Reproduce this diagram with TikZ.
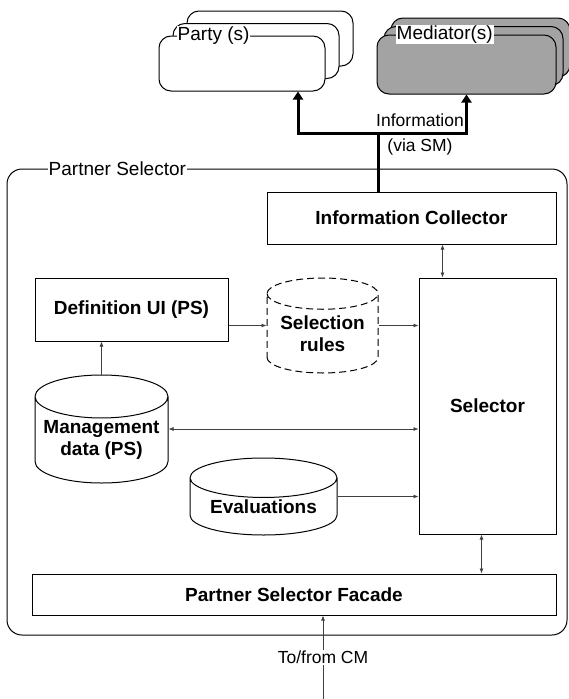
\documentclass[tikz,border=0pt]{standalone}
\usepackage{fontspec}
\setmainfont{Liberation Sans}
\usetikzlibrary{positioning,shapes.geometric,arrows.meta}

\tikzset{
  box/.style={draw, line width=1pt, inner sep=2pt, font=\fontsize{19}{22}\selectfont\bfseries},
  store/.style={draw, line width=1pt, fill=white, cylinder, shape border rotate=90, aspect=0.37,
    inner sep=0pt, align=center, anchor=shape center, font=\fontsize{19}{22}\selectfont\bfseries},
  card/.style={draw, line width=1pt, rounded corners=12pt, minimum width=166pt, minimum height=55pt},
  tab/.style={fill=white, inner sep=1pt, font=\fontsize{17.5}{20}\selectfont},
  title/.style={tab, font=\fontsize{19}{22}\selectfont},
  flow/.style={draw=black!75, line width=0.7pt, -{Latex[length=5pt,width=4pt]}},
  flowboth/.style={flow, {Latex[length=5pt,width=4pt]}-{Latex[length=5pt,width=4pt]}},
  bigflow/.style={line width=3pt, {Triangle[length=8pt,width=10pt]}-{Triangle[length=8pt,width=10pt]}},
}

\begin{document}
\begin{tikzpicture}[x=1pt, y=-1pt]
  \useasboundingbox (0,0) rectangle (569,699);

  % parties and mediators, stacked
  \node [card, fill=white](party3) at (270,38.5) {};
  \node [card, fill=white](party2) at (256,51) {};
  \node [card, fill=white](party1) at (242,63.5) {};
  \node [title, anchor=west, right=18pt of party1.north west] (partylbl) {Party (s)};

  \node [card, fill=black!36, minimum width=179pt, minimum height=59pt](med3) at (480.5,47.5) {};
  \node [card, fill=black!36, minimum width=179pt, minimum height=59pt](med2) at (473.5,56) {};
  \node [card, fill=black!36, minimum width=179pt, minimum height=59pt](med1) at (466.5,64.5) {};
  \node [title, anchor=west, right=19pt of med1.north west] (medlbl) {Mediator(s)};

  % the partner selector
  \node [draw, line width=1pt, rounded corners=15pt, minimum width=560pt, minimum height=466pt](ps) at (287,402) {};
  \node [title, anchor=west, right=41pt of ps.north west] (pslbl) {Partner Selector};

  \node [box, minimum width=289pt, minimum height=52pt](ic) at (411.5,218) {Information Collector};
  \node [box, minimum width=137pt, minimum height=256pt](sel) at (487.5,406) {Selector};
  \node [box, minimum width=193pt, minimum height=63pt](defui) at (131.5,309.5) {Definition UI (PS)};
  \node [store, dashed, dash pattern=on 7pt off 4pt, minimum width=111pt, minimum height=95pt](rules) at (322.5,325.5) {Selection\\rules};
  \node [store, minimum width=133pt, minimum height=108pt](mgmt) at (101.5,429) {Management\\data (PS)};
  \node [store, minimum width=147pt, minimum height=77pt](eval) at (263.5,496.5) {Evaluations};
  \node [box, minimum width=524pt, minimum height=41pt](facade) at (294,594.5) {Partner Selector Facade};

  \coordinate (hub) at (378,133);
  \coordinate (cm) at (323,699);

  % information flow via SM
  \draw [bigflow] ([xshift=56pt]party1.south) |- (hub) -| (med1.south);
  \draw [bigflow, {-}] (hub) -- (hub |- ic.north);
  \node [tab, fill=none] (info) at (420,120) {Information};
  \node [tab, fill=none] (viasm) at (420,147) {(via SM)};

  \draw [flow] (mgmt.90) -- (mgmt.90 |- defui.south);
  \draw [flow] (defui.east |- rules.shape center) -- (rules.shape center -| rules.180);
  \draw [flow] (rules.shape center -| rules.0) -- (rules.shape center -| sel.west);
  \draw [flowboth] (mgmt.shape center -| mgmt.0) -- (mgmt.shape center -| sel.west);
  \draw [flow] (eval.shape center -| eval.0) -- (eval.shape center -| sel.west);
  \draw [flowboth] ([xshift=24pt]sel.north west) -- ([xshift=24pt]sel.north west |- ic.south);
  \draw [flowboth] ([xshift=-6pt]sel.south) -- ([xshift=-6pt]sel.south |- facade.north);
  \draw [flow] (cm) -- (cm |- facade.south) node [tab, midway] (cmlbl) {To/from CM};
\end{tikzpicture}
\end{document}
